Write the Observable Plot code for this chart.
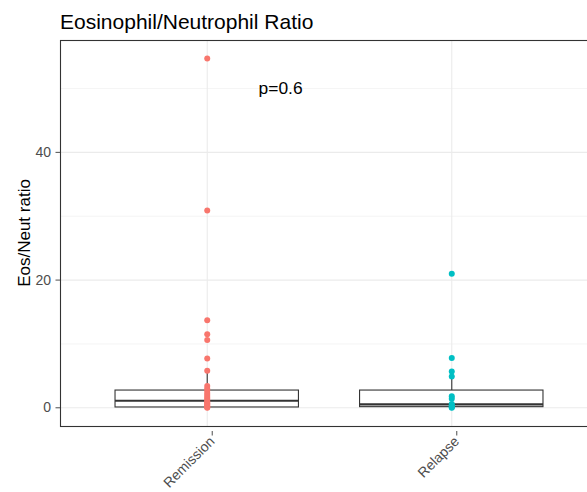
<!DOCTYPE html>
<html>
<head>
<meta charset="utf-8">
<script src="https://cdn.jsdelivr.net/npm/d3@7"></script>
<script src="https://cdn.jsdelivr.net/npm/@observablehq/plot@0.6"></script>
<style>
  html, body { margin: 0; padding: 0; background: white; overflow: hidden; }
  #chart { width: 587px; height: 492px; overflow: hidden; }
  #chart svg { max-width: none !important; height: 492px !important; display: block; }
</style>
</head>
<body>
<div id="chart"></div>
<script>
const title = "Eosinophil/Neutrophil Ratio";
const yLabel = "Eos/Neut ratio";
const groups = ["Remission", "Relapse"];
const colors = ["#F8766D", "#00BFC4"];
const remissionValues = [54.7, 30.9, 13.7, 11.5, 10.6, 7.7, 5.8, 3.4, 3.0, 2.7, 2.3, 2.0, 1.7, 1.4, 1.1, 0.9, 0.7, 0.5, 0.3, 0.2, 0.1, 0.0];
const relapseValues = [21.0, 7.8, 5.7, 4.9, 1.8, 1.4, 0.6, 0.4, 0.2, 0.1, 0.0];
const boxLow = [0.0, 0.0];
const boxQ1 = [0.05, 0.1];
const boxMedian = [1.1, 0.55];
const boxQ3 = [2.7, 2.7];
const boxHigh = [5.8, 5.7];
const yMajorTicks = [0, 20, 40];
const yMinorTicks = [10, 30, 50];
const pText = "p=0.6";
const pX = 0.3;
const pY = 50;

const points = [
  ...remissionValues.map(v => ({i: 0, g: groups[0], v})),
  ...relapseValues.map(v => ({i: 1, g: groups[1], v}))
];
const boxes = groups.map((g, i) => ({
  i, g, lo: boxLow[i], q1: boxQ1[i], med: boxMedian[i], q3: boxQ3[i], hi: boxHigh[i]
}));
const halfWidth = 0.375;

const chart = Plot.plot({
  width: 600,
  height: 492,
  marginLeft: 60,
  marginRight: 2,
  marginTop: 40,
  marginBottom: 66,
  style: {fontFamily: "'Liberation Sans', Arial, sans-serif", background: "white", maxWidth: "none"},
  x: {domain: [-0.6, 1.6]},
  y: {domain: [-2.93, 57.52]},
  color: {domain: groups, range: colors},
  marks: [
    Plot.gridY(yMinorTicks, {stroke: "#ebebeb", strokeOpacity: 1, strokeWidth: 0.55}),
    Plot.gridY(yMajorTicks, {stroke: "#ebebeb", strokeOpacity: 1, strokeWidth: 1.1}),
    Plot.gridX([0, 1], {stroke: "#ebebeb", strokeOpacity: 1, strokeWidth: 1.1}),
    Plot.ruleX(boxes, {x: "i", y1: "q3", y2: "hi", stroke: "#333333", strokeWidth: 1.1}),
    Plot.ruleX(boxes, {x: "i", y1: "lo", y2: "q1", stroke: "#333333", strokeWidth: 1.1}),
    Plot.rect(boxes, {x1: d => d.i - halfWidth, x2: d => d.i + halfWidth, y1: "q1", y2: "q3", fill: "white", stroke: "#333333", strokeWidth: 1.1}),
    Plot.ruleY(boxes, {x1: d => d.i - halfWidth, x2: d => d.i + halfWidth, y: "med", stroke: "#333333", strokeWidth: 2.2}),
    Plot.dot(points, {x: "i", y: "v", fill: "g", r: 3}),
    Plot.text([pText], {x: pX, y: pY, text: d => d, fontSize: 17.4, fill: "black"}),
    Plot.frame({stroke: "#333333", strokeWidth: 1.1}),
    Plot.axisY(yMajorTicks, {tickSize: 4.5, tickPadding: 5, fontSize: 14, color: "#4d4d4d", label: null}),
    Plot.axisX([0, 1], {tickFormat: i => groups[i], tickRotate: -45, tickSize: 4.5, tickPadding: 3, dx: 5, dy: 5, fontSize: 14, color: "#4d4d4d", label: null})
  ]
});

document.getElementById("chart").appendChild(chart);
const svg = d3.select(chart);
svg.append("text")
  .attr("x", 60).attr("y", 29)
  .attr("font-size", 21)
  .attr("text-anchor", "start")
  .attr("fill", "black")
  .text(title);
svg.append("text")
  .attr("transform", "translate(29.5,233) rotate(-90)")
  .attr("text-anchor", "middle")
  .attr("font-size", 17)
  .attr("fill", "black")
  .text(yLabel);
</script>
</body>
</html>
